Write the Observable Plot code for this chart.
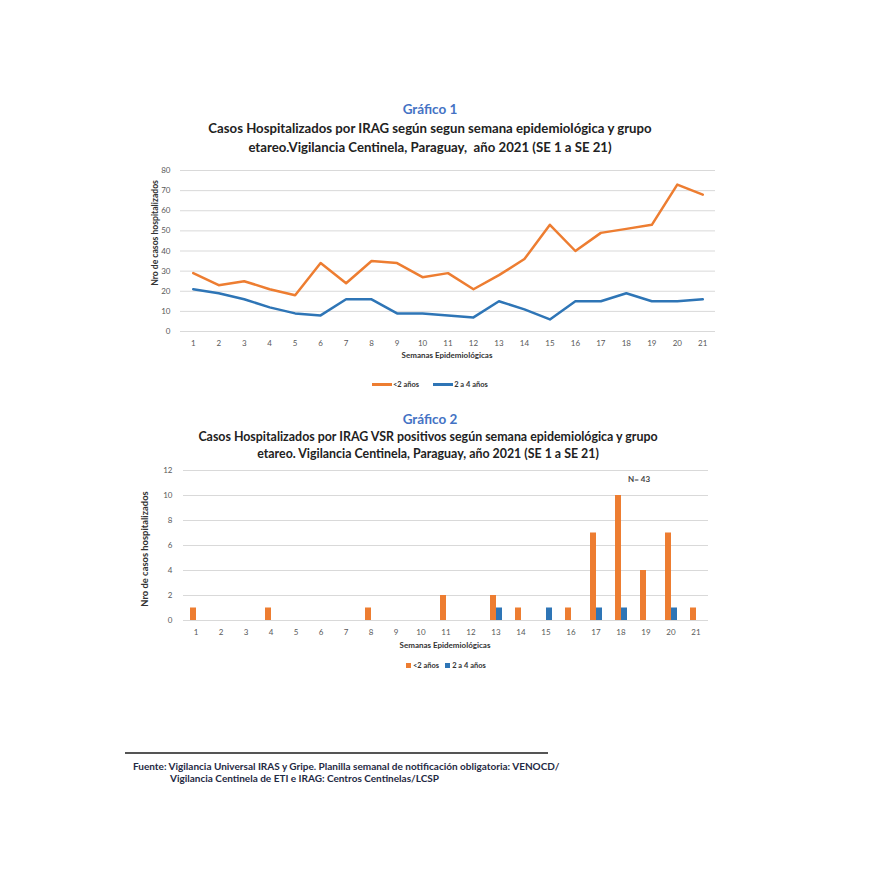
<!DOCTYPE html>
<html><head><meta charset="utf-8">
<script src="https://cdn.jsdelivr.net/npm/d3@7"></script>
<script src="https://cdn.jsdelivr.net/npm/@observablehq/plot@0.6"></script>
<style>
body{margin:0;background:#fff;}
#page{position:relative;width:870px;height:875px;background:#fff;font-family:Lato,"Open Sans",sans-serif;overflow:hidden;}
.abs{position:absolute;}
.gtitle{color:#4472C4;font-weight:bold;font-size:13.5px;text-align:center;width:400px;}
.sub{color:#222;font-weight:bold;text-align:center;width:600px;}
.xt{color:#333;font-weight:bold;font-size:8px;text-align:center;width:300px;}
.yt{color:#333;font-weight:bold;text-align:center;width:200px;height:12px;line-height:12px;transform:rotate(-90deg);}
.leg{font-size:7.5px;font-weight:bold;color:#333;display:flex;align-items:center;gap:0;}
.foot{font-size:10px;font-weight:bold;color:#1f2a44;white-space:nowrap;}
</style></head>
<body><div id="page"></div>
<script>
const weeks = d3.range(1, 22);
const tickLabels = weeks.map(String);
const groups = ["<2 años", "2 a 4 años"];
const colors = ["#ED7D31", "#2E75B6"];
// Gráfico 1
const casosMenores2 = [29, 23, 25, 21, 18, 34, 24, 35, 34, 27, 29, 21, 28, 36, 53, 40, 49, 51, 53, 73, 68];
const casos2a4 = [21, 19, 16, 12, 9, 8, 16, 16, 9, 9, 8, 7, 15, 11, 6, 15, 15, 19, 15, 15, 16];
const yTicks1 = [0, 10, 20, 30, 40, 50, 60, 70, 80];
// Gráfico 2
const vsrMenores2 = [1, 0, 0, 1, 0, 0, 0, 1, 0, 0, 2, 0, 2, 1, 0, 1, 7, 10, 4, 7, 1];
const vsr2a4 = [0, 0, 0, 0, 0, 0, 0, 0, 0, 0, 0, 0, 1, 0, 1, 0, 1, 1, 0, 1, 0];
const yTicks2 = [0, 2, 4, 6, 8, 10, 12];

const page = document.getElementById("page");
function add(html, cls, left, top, extra) {
  const d = document.createElement("div");
  d.className = "abs " + (cls || "");
  d.style.left = left + "px"; d.style.top = top + "px";
  if (extra) Object.assign(d.style, extra);
  d.innerHTML = html;
  page.appendChild(d);
  return d;
}

const lineData = [];
weeks.forEach((w, i) => {
  lineData.push({week: w, value: casosMenores2[i], group: groups[0]});
  lineData.push({week: w, value: casos2a4[i], group: groups[1]});
});
const barData = [];
weeks.forEach((w, i) => {
  barData.push({week: w, value: vsrMenores2[i], group: groups[0]});
  barData.push({week: w, value: vsr2a4[i], group: groups[1]});
});

// Titles chart 1
add("Gráfico 1", "gtitle", 230, 101);
add("Casos Hospitalizados por IRAG según segun semana epidemiológica y grupo<br>etareo.Vigilancia Centinela, Paraguay,&nbsp; año 2021 (SE 1 a SE 21)", "sub", 130, 119, {lineHeight: "19px", fontSize: "13.2px"});

const chart1 = Plot.plot({
  width: 600, height: 200,
  marginLeft: 50, marginRight: 15, marginTop: 10, marginBottom: 29,
  style: {fontFamily: "Lato, sans-serif", fontSize: "8px", color: "#595959", background: "transparent"},
  x: {type: "linear", domain: [0.5, 21.5], ticks: weeks, tickFormat: d => tickLabels[d - 1], tickSize: 0, tickPadding: 9, label: null},
  y: {domain: [0, 80], ticks: yTicks1, tickSize: 0, tickPadding: 10, label: null},
  color: {domain: groups, range: colors},
  marks: [
    Plot.ruleY(yTicks1, {stroke: "#d9d9d9", strokeWidth: 1}),
    Plot.line(lineData, {x: "week", y: "value", z: "group", stroke: "group", strokeWidth: 2.5, strokeLinejoin: "round", strokeLinecap: "round"})
  ]
});
chart1.style.position = "absolute"; chart1.style.left = "130px"; chart1.style.top = "160px";
page.appendChild(chart1);
add("Nro de casos hospitalizados", "yt", 55, 227, {fontSize: "8.6px"});

add("Semanas Epidemiológicas", "xt", 297, 350);
const leg1 = add("", "leg", 372, 380);
groups.forEach((g, i) => {
  const s = document.createElement("span");
  s.style.cssText = `display:inline-block;width:20px;height:2.5px;background:${colors[i]};margin-right:1px;margin-left:${i ? 14 : 0}px`;
  leg1.appendChild(s);
  const t = document.createElement("span"); t.textContent = g; leg1.appendChild(t);
});

// Titles chart 2
add("Gráfico 2", "gtitle", 230, 411);
add("Casos Hospitalizados por IRAG VSR positivos según semana epidemiológica y grupo<br>etareo. Vigilancia Centinela, Paraguay, año 2021 (SE 1 a SE 21)", "sub", 128, 428, {lineHeight: "17px", fontSize: "12.4px"});

const chart2 = Plot.plot({
  width: 610, height: 190,
  marginLeft: 53, marginRight: 12, marginTop: 10, marginBottom: 30,
  style: {fontFamily: "Lato, sans-serif", fontSize: "8px", color: "#595959", background: "transparent"},
  facet: {data: barData, x: "week"},
  fx: {domain: weeks, padding: 0, axis: "bottom", tickSize: 0, tickPadding: 9, label: null, tickFormat: d => tickLabels[d - 1]},
  x: {domain: groups, axis: null, paddingInner: 0.02, paddingOuter: 0.8},
  y: {domain: [0, 12], ticks: yTicks2, tickSize: 0, tickPadding: 11, label: null},
  color: {domain: groups, range: colors},
  marks: [
    Plot.ruleY(yTicks2, {stroke: "#d9d9d9", strokeWidth: 1}),
    Plot.barY(barData, {x: "group", y: "value", fill: "group"})
  ]
});
chart2.style.position = "absolute"; chart2.style.left = "120px"; chart2.style.top = "460px";
page.appendChild(chart2);
add("Nro de casos hospitalizados", "yt", 45, 543, {fontSize: "9.4px"});

add("N= 43", "", 628, 474, {fontSize: "8px", fontWeight: "bold", color: "#444"});
add("Semanas Epidemiológicas", "xt", 295, 640);
const leg2 = add("", "leg", 406, 661);
groups.forEach((g, i) => {
  const s = document.createElement("span");
  s.style.cssText = `display:inline-block;width:5px;height:5px;background:${colors[i]};margin-right:2px;margin-left:${i ? 6 : 0}px`;
  leg2.appendChild(s);
  const t = document.createElement("span"); t.textContent = g; leg2.appendChild(t);
});

// Footer
add("", "", 125, 752, {width: "423px", height: "2px", background: "#555"});
add("Fuente: Vigilancia Universal IRAS y Gripe. Planilla semanal de notificación obligatoria: VENOCD/", "foot", 133, 760);
add("Vigilancia Centinela de ETI e IRAG: Centros Centinelas/LCSP", "foot", 170, 772);
</script>
</body></html>
